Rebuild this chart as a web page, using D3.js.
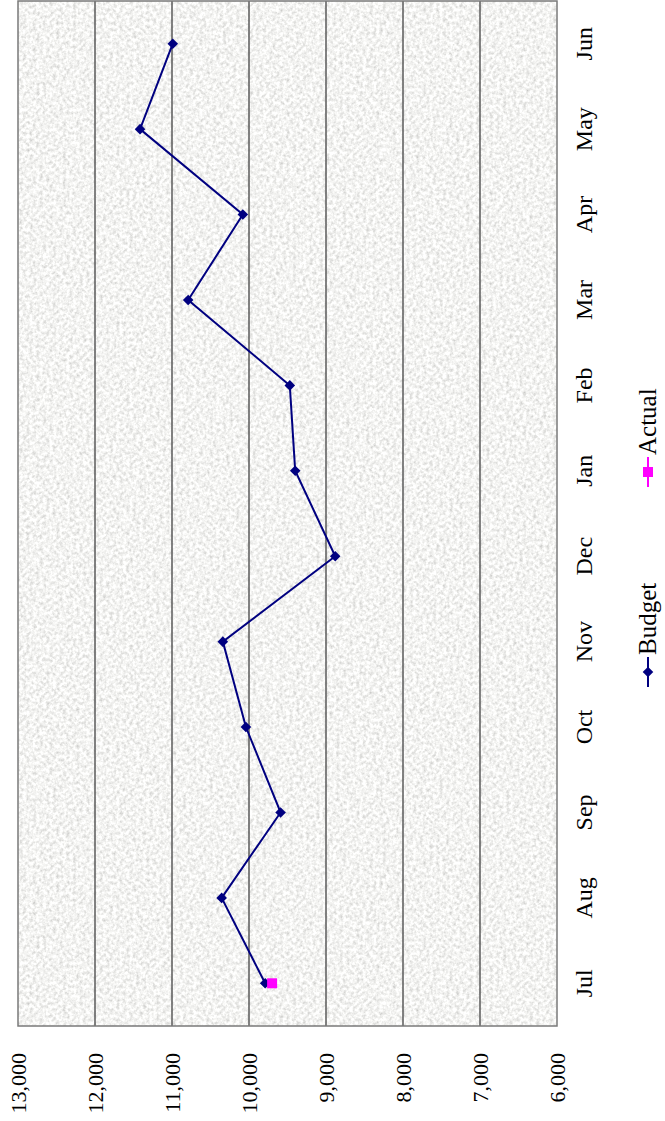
<!DOCTYPE html>
<html>
<head>
<meta charset="utf-8">
<script src="https://cdn.jsdelivr.net/npm/d3@7"></script>
<style>
  body { margin: 0; background: #fff; }
  text { font-family: "Liberation Serif", "Times New Roman", serif; fill: #000; }
</style>
</head>
<body>
<div id="container"></div>
<script>
var months = ['Jul', 'Aug', 'Sep', 'Oct', 'Nov', 'Dec', 'Jan', 'Feb', 'Mar', 'Apr', 'May', 'Jun'];
var budget = [9790, 10355, 9590, 10040, 10340, 8880, 9400, 9470, 10790, 10080, 11415, 10990];
var actual = [9700];
var yTicks = [6000, 7000, 8000, 9000, 10000, 11000, 12000, 13000];
var seriesNames = ['Budget', 'Actual'];

var svgWidth = 665,
    svgHeight = 1121;

var svg = d3.select('#container')
    .append('svg')
    .attr('width', svgWidth)
    .attr('height', svgHeight);

var defs = svg.append('defs');
var filt = defs.append('filter')
    .attr('id', 'granite')
    .attr('x', 0).attr('y', 0).attr('width', 1).attr('height', 1);
filt.append('feTurbulence')
    .attr('type', 'fractalNoise')
    .attr('baseFrequency', 0.3)
    .attr('numOctaves', 3)
    .attr('seed', 7);
filt.append('feColorMatrix')
    .attr('type', 'matrix')
    .attr('values', '0.7 0 0 0 0.55  0.7 0 0 0 0.55  0.7 0 0 0 0.535  0 0 0 0 1');

// the chart is drawn on its side: build it flat, then turn it
var g = svg.append('g')
    .attr('transform', 'translate(0,' + svgHeight + ') rotate(-90)');

var plot = {left: 95, right: 1120, top: 18, bottom: 557};

var scaleX = d3.scaleBand()
    .domain(months)
    .range([plot.left, plot.right]);

var scaleY = d3.scaleLinear()
    .domain([6000, 13000])
    .range([plot.bottom, plot.top]);

g.append('rect')
    .attr('x', plot.left)
    .attr('y', plot.top)
    .attr('width', plot.right - plot.left)
    .attr('height', plot.bottom - plot.top)
    .attr('filter', 'url(#granite)');

g.selectAll('.grid')
    .data(yTicks.slice(1, -1))
    .enter()
    .append('line')
    .attr('x1', plot.left)
    .attr('x2', plot.right)
    .attr('y1', function(d) { return scaleY(d); })
    .attr('y2', function(d) { return scaleY(d); })
    .style('stroke', '#5a5a5a')
    .style('stroke-width', 1.5);

g.append('rect')
    .attr('x', plot.left)
    .attr('y', plot.top)
    .attr('width', plot.right - plot.left)
    .attr('height', plot.bottom - plot.top)
    .style('fill', 'none')
    .style('stroke', '#7a7a7a')
    .style('stroke-width', 1.5);

var yAxis = g.append('g')
    .attr('transform', 'translate(' + plot.left + ',0)')
    .call(d3.axisLeft(scaleY).tickValues(yTicks).tickFormat(d3.format(',')).tickSize(0).tickPadding(27));
yAxis.select('.domain').remove();
yAxis.selectAll('text')
    .style('font-size', '22px')
    .style('font-family', '"Liberation Serif", serif');

var xAxis = g.append('g')
    .attr('transform', 'translate(0,' + plot.bottom + ')')
    .call(d3.axisBottom(scaleX).tickSize(0).tickPadding(18));
xAxis.select('.domain').remove();
xAxis.selectAll('text')
    .style('font-size', '24px')
    .style('font-family', '"Liberation Serif", serif');

var cx = function(d, i) { return scaleX(months[i]) + scaleX.bandwidth() / 2; };

var line = d3.line()
    .x(cx)
    .y(function(d) { return scaleY(d); });

g.append('path')
    .datum(budget)
    .attr('d', line)
    .style('fill', 'none')
    .style('stroke', '#000080')
    .style('stroke-width', 2);

var diamond = d3.symbol().type(d3.symbolSquare).size(56);

g.selectAll('.budget')
    .data(budget)
    .enter()
    .append('path')
    .attr('d', diamond)
    .attr('transform', function(d, i) {
        return 'translate(' + cx(d, i) + ',' + scaleY(d) + ') rotate(45)';
    })
    .style('fill', '#000080');

g.append('path')
    .datum(actual)
    .attr('d', line)
    .style('fill', 'none')
    .style('stroke', '#ff00ff')
    .style('stroke-width', 2);

g.selectAll('.actual')
    .data(actual)
    .enter()
    .append('rect')
    .attr('x', function(d, i) { return cx(d, i) - 5; })
    .attr('y', function(d) { return scaleY(d) - 5; })
    .attr('width', 10)
    .attr('height', 10)
    .style('fill', '#ff00ff');

// legend
var legendX = [449, 649];
var legendColors = ['#000080', '#ff00ff'];
var leg = g.selectAll('.legend')
    .data(seriesNames)
    .enter()
    .append('g')
    .attr('transform', function(d, i) { return 'translate(' + legendX[i] + ',648)'; });

leg.append('line')
    .attr('x1', -15)
    .attr('x2', 15)
    .style('stroke', function(d, i) { return legendColors[i]; })
    .style('stroke-width', 2);

leg.append('path')
    .attr('d', function(d, i) {
        return i === 0 ? diamond() : d3.symbol().type(d3.symbolSquare).size(100)();
    })
    .attr('transform', function(d, i) { return i === 0 ? 'rotate(45)' : null; })
    .style('fill', function(d, i) { return legendColors[i]; });

leg.append('text')
    .text(function(d) { return d; })
    .attr('x', 17)
    .attr('y', 8)
    .style('font-size', '25px');
</script>
</body>
</html>
